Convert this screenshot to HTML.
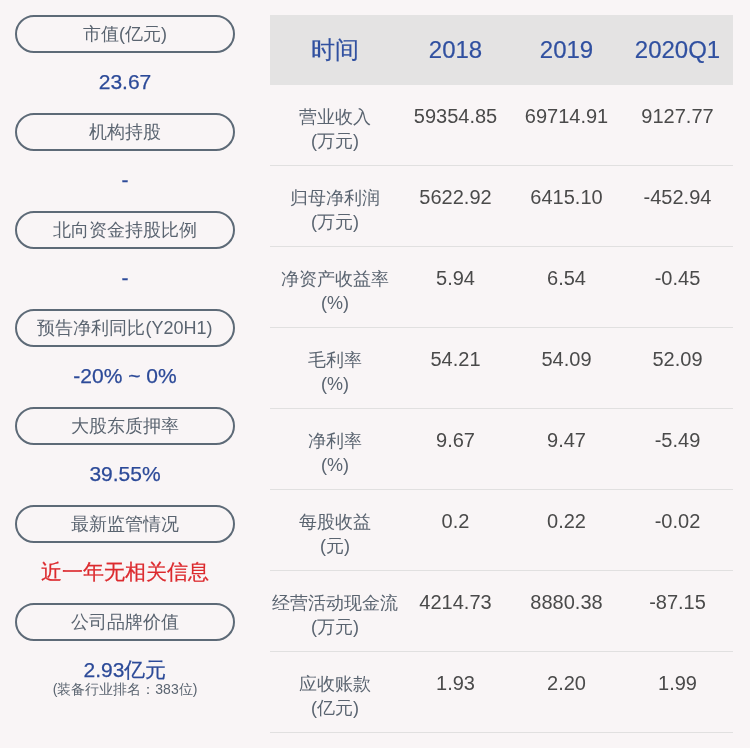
<!DOCTYPE html>
<html><head><meta charset="utf-8">
<style>
html,body{margin:0;padding:0;}
body{width:750px;height:748px;background:#f9f5f6;position:relative;overflow:hidden;font-family:"Liberation Sans",sans-serif;}
.pill{position:absolute;left:15px;width:216px;height:34px;border:2px solid #5d6a77;border-radius:19px;text-align:center;line-height:34px;font-size:18px;color:#5a6470;will-change:transform;}
.val{position:absolute;left:15px;width:220px;text-align:center;font-size:21px;color:#2c4a98;line-height:24px;will-change:transform;-webkit-text-stroke:0.25px currentColor;}
.red{color:#dc2a2e;}
.sub{position:absolute;left:15px;width:220px;text-align:center;font-size:14px;color:#5a6470;will-change:transform;line-height:16px;}
.thead{position:absolute;left:270px;top:15px;width:463px;height:70px;background:#e4e3e3;}
.th{will-change:transform;-webkit-text-stroke:0.2px currentColor;position:absolute;top:0;height:70px;line-height:70px;text-align:center;font-size:24px;color:#3050a0;}
.row{position:absolute;left:270px;width:463px;height:81px;}
.line{position:absolute;left:270px;width:463px;height:1px;background:#e1e0e0;}
.c{position:absolute;text-align:center;font-size:20px;color:#4a4a4a;line-height:24px;will-change:transform;}
.c0{left:270px;width:130px;color:#5a6470;font-size:18px;line-height:24px;}
.c1{left:400px;width:111px;margin-top:-1px;}
.c2{left:511px;width:111px;margin-top:-1px;}
.c3{left:622px;width:111px;margin-top:-1px;}
</style></head><body>
<div class="pill" style="top:15px">市值(亿元)</div>
<div class="val" style="top:70px">23.67</div>
<div class="pill" style="top:113px">机构持股</div>
<div class="val" style="top:168px">-</div>
<div class="pill" style="top:211px">北向资金持股比例</div>
<div class="val" style="top:266px">-</div>
<div class="pill" style="top:309px">预告净利同比(Y20H1)</div>
<div class="val" style="top:364px">-20% ~ 0%</div>
<div class="pill" style="top:407px">大股东质押率</div>
<div class="val" style="top:462px">39.55%</div>
<div class="pill" style="top:505px">最新监管情况</div>
<div class="val red" style="top:560px">近一年无相关信息</div>
<div class="pill" style="top:603px">公司品牌价值</div>
<div class="val" style="top:658px">2.93亿元</div>
<div class="sub" style="top:681px">(装备行业排名：383位)</div>

<div class="thead">
<div class="th" style="left:0;width:130px">时间</div>
<div class="th" style="left:130px;width:111px">2018</div>
<div class="th" style="left:241px;width:111px">2019</div>
<div class="th" style="left:352px;width:111px">2020Q1</div>
</div>

<div class="c c0" style="top:105px">营业收入<br>(万元)</div>
<div class="c c1" style="top:105px">59354.85</div>
<div class="c c2" style="top:105px">69714.91</div>
<div class="c c3" style="top:105px">9127.77</div>
<div class="line" style="top:165px"></div>

<div class="c c0" style="top:186px">归母净利润<br>(万元)</div>
<div class="c c1" style="top:186px">5622.92</div>
<div class="c c2" style="top:186px">6415.10</div>
<div class="c c3" style="top:186px">-452.94</div>
<div class="line" style="top:246px"></div>

<div class="c c0" style="top:267px">净资产收益率<br>(%)</div>
<div class="c c1" style="top:267px">5.94</div>
<div class="c c2" style="top:267px">6.54</div>
<div class="c c3" style="top:267px">-0.45</div>
<div class="line" style="top:327px"></div>

<div class="c c0" style="top:348px">毛利率<br>(%)</div>
<div class="c c1" style="top:348px">54.21</div>
<div class="c c2" style="top:348px">54.09</div>
<div class="c c3" style="top:348px">52.09</div>
<div class="line" style="top:408px"></div>

<div class="c c0" style="top:429px">净利率<br>(%)</div>
<div class="c c1" style="top:429px">9.67</div>
<div class="c c2" style="top:429px">9.47</div>
<div class="c c3" style="top:429px">-5.49</div>
<div class="line" style="top:489px"></div>

<div class="c c0" style="top:510px">每股收益<br>(元)</div>
<div class="c c1" style="top:510px">0.2</div>
<div class="c c2" style="top:510px">0.22</div>
<div class="c c3" style="top:510px">-0.02</div>
<div class="line" style="top:570px"></div>

<div class="c c0" style="top:591px">经营活动现金流<br>(万元)</div>
<div class="c c1" style="top:591px">4214.73</div>
<div class="c c2" style="top:591px">8880.38</div>
<div class="c c3" style="top:591px">-87.15</div>
<div class="line" style="top:651px"></div>

<div class="c c0" style="top:672px">应收账款<br>(亿元)</div>
<div class="c c1" style="top:672px">1.93</div>
<div class="c c2" style="top:672px">2.20</div>
<div class="c c3" style="top:672px">1.99</div>
<div class="line" style="top:732px"></div>
</body></html>
